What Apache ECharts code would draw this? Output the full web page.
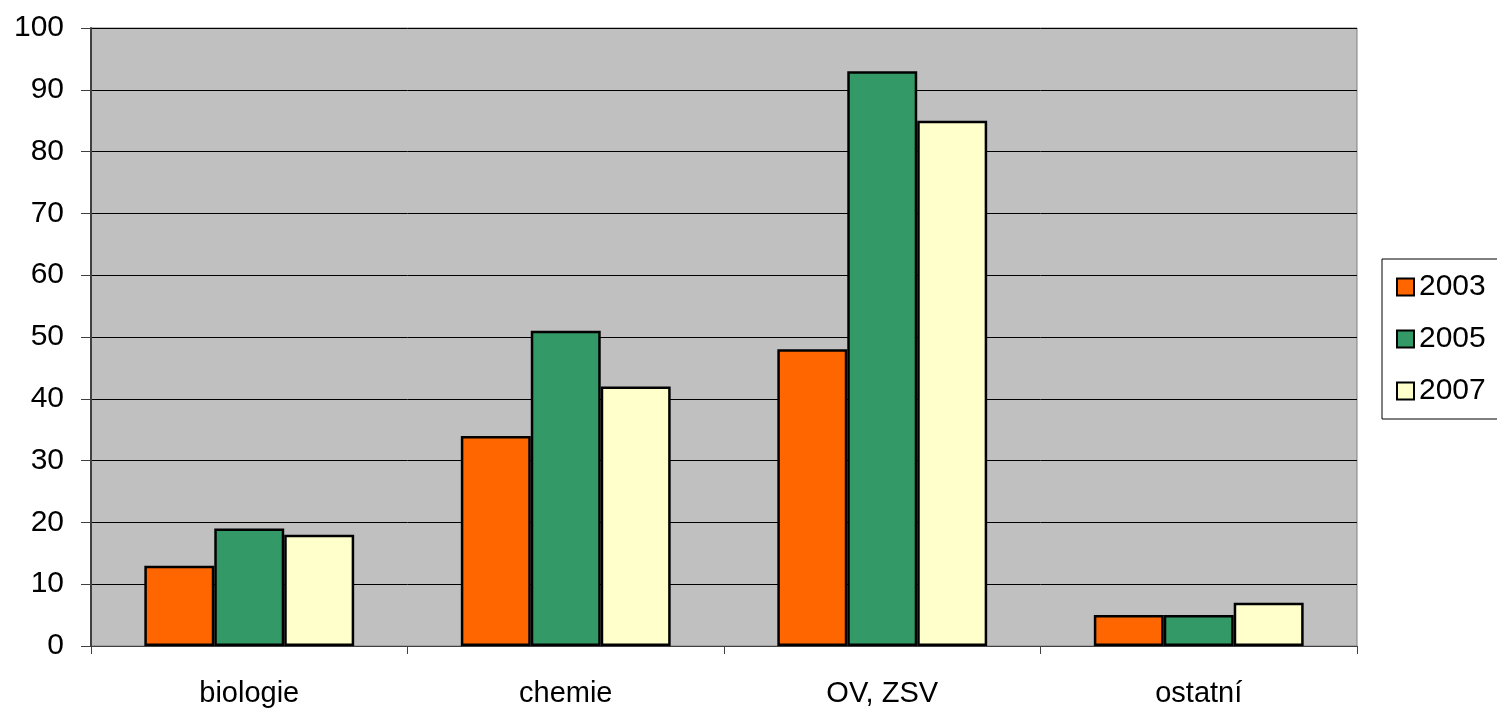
<!DOCTYPE html>
<html><head><meta charset="utf-8">
<script src="https://cdn.jsdelivr.net/npm/echarts@6/dist/echarts.min.js"></script>
<style>html,body{margin:0;padding:0;background:#fff}#c{width:1497px;height:709px}</style>
</head><body><div id="c"></div>
<script>
const categories = ['biologie', 'chemie', 'OV, ZSV', 'ostatní'];
const years = ['2003', '2005', '2007'];
const v2003 = [13, 34, 48, 5];
const v2005 = [19, 51, 93, 5];
const v2007 = [18, 42, 85, 7];
const yTicks = [0, 10, 20, 30, 40, 50, 60, 70, 80, 90, 100];
const colors = ['#FF6600', '#339966', '#FFFFCC'];

const chart = echarts.init(document.getElementById('c'));
const font = 'Liberation Sans, Arial, sans-serif';
const mk = (name, data, color) => ({
  name, type: 'bar', data,
  itemStyle: { color, borderColor: '#000', borderWidth: 2.5 },
  barGap: '0%', barCategoryGap: '33.7%'
});
chart.setOption({
  animation: false,
  grid: { left: 91, right: 140, top: 28, bottom: 63, backgroundColor: '#C0C0C0', show: true, borderColor: '#808080', borderWidth: 1 },
  xAxis: {
    type: 'category', data: categories,
    axisLine: { lineStyle: { color: '#404040', width: 1 } },
    axisTick: { show: true, length: 8, lineStyle: { color: '#404040' } },
    axisLabel: { color: '#000', fontSize: 29, fontFamily: font, margin: 33 }
  },
  yAxis: {
    type: 'value', min: yTicks[0], max: yTicks[yTicks.length - 1], interval: 10,
    axisLine: { show: true, lineStyle: { color: '#404040', width: 2 } },
    axisTick: { show: true, length: 10, lineStyle: { color: '#404040' } },
    axisLabel: { color: '#000', fontSize: 30, fontFamily: font, margin: 27 },
    splitLine: { lineStyle: { color: '#000', width: 1 } }
  },
  legend: {
    data: years, orient: 'vertical', left: 1382, top: 259,
    backgroundColor: '#fff', borderColor: '#000', borderWidth: 1,
    padding: [13, 40, 13, 14], itemGap: 22, itemWidth: 17, itemHeight: 17,
    icon: 'rect',
    itemStyle: { borderColor: '#000', borderWidth: 2 },
    textStyle: { fontSize: 30, fontFamily: font, color: '#000', padding: [0, 0, 0, 0], lineHeight: 30 }
  },
  series: [mk(years[0], v2003, colors[0]), mk(years[1], v2005, colors[1]), mk(years[2], v2007, colors[2])]
});
</script></body></html>
